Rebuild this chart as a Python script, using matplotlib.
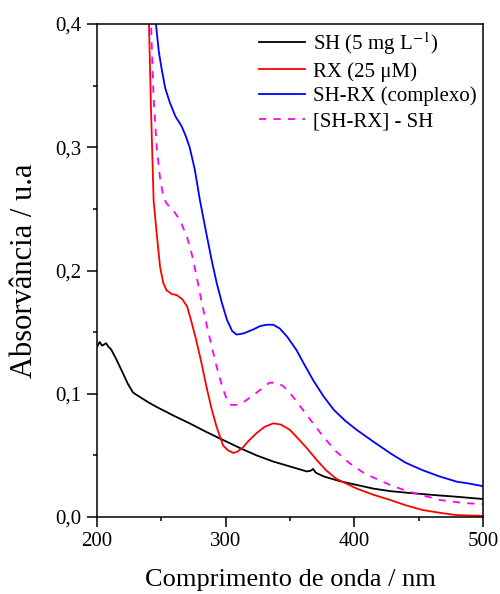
import numpy as np
import matplotlib.pyplot as plt
from matplotlib.ticker import MultipleLocator, FuncFormatter

plt.rcParams['font.family'] = ['Liberation Serif', 'DejaVu Serif']
plt.rcParams['mathtext.fontset'] = 'stix'

# SH (5 mg/L)
sh_x = [200, 202, 204, 207, 209, 211, 215, 220, 224, 228, 233, 240, 246, 260, 272, 285, 298, 311,
        324, 337, 350, 363, 366, 368, 370, 376, 389, 402, 415, 428, 440, 453, 466, 479, 490, 500]
sh_y = [0.138, 0.142, 0.139, 0.141, 0.138, 0.136, 0.128, 0.117, 0.108, 0.101, 0.0976, 0.093, 0.0895,
        0.082, 0.076, 0.069, 0.0625, 0.056, 0.050, 0.045, 0.041, 0.037, 0.0375, 0.039, 0.036, 0.033,
        0.029, 0.026, 0.023, 0.021, 0.0198, 0.0186, 0.0175, 0.0165, 0.0155, 0.0146]

# RX (25 uM)
rx_x = [238, 240.4, 242, 244, 246.4, 249, 251.5, 254, 258, 262, 266, 270, 273, 277, 281, 285, 289,
        293, 296, 298, 302, 306, 309, 313, 318, 324, 330, 337, 343, 350, 356, 363, 367, 371, 378,
        386, 394, 402, 415, 428, 440, 453, 466, 479, 490, 500]
rx_y = [0.48, 0.40, 0.33, 0.257, 0.230, 0.203, 0.190, 0.184, 0.181, 0.180, 0.177, 0.171, 0.160,
        0.144, 0.126, 0.106, 0.088, 0.073, 0.064, 0.058, 0.054, 0.052, 0.053, 0.056, 0.062, 0.068,
        0.073, 0.076, 0.075, 0.0706, 0.064, 0.056, 0.051, 0.046, 0.038, 0.031, 0.027, 0.023, 0.018,
        0.0138, 0.0095, 0.0057, 0.0035, 0.0016, 0.0012, 0.001]

# SH-RX (complexo)
cx_x = [244, 245.8, 248, 250, 253, 256.7, 261, 265.8, 269, 272, 276, 280, 285, 289, 293, 297, 301,
        305, 308.5, 314, 321, 327, 332, 337, 342, 348, 355, 361, 368, 376, 384, 393, 402, 415, 428,
        440, 453, 466, 479.5, 490, 500]
cx_y = [0.44, 0.40, 0.378, 0.365, 0.348, 0.336, 0.325, 0.317, 0.309, 0.300, 0.282, 0.257, 0.230,
        0.209, 0.190, 0.174, 0.160, 0.151, 0.148, 0.149, 0.152, 0.155, 0.156, 0.156, 0.153, 0.146,
        0.1355, 0.124, 0.111, 0.098, 0.087, 0.078, 0.0706, 0.061, 0.0517, 0.044, 0.038, 0.033,
        0.0287, 0.027, 0.025]

# [SH-RX] - SH
df_x = [240, 242, 244, 246.4, 249, 251.5, 254, 259, 264.5, 270, 274, 277.5, 281, 285, 289, 293,
        297, 301, 304, 308.5, 315, 321.5, 328, 334, 340, 345, 352, 360, 368, 376, 386, 396.5, 407,
        417, 430, 443, 455, 466.5, 480, 490, 500]
df_y = [0.44, 0.40, 0.34, 0.300, 0.275, 0.260, 0.2545, 0.249, 0.241, 0.227, 0.212, 0.195, 0.176,
        0.157, 0.139, 0.122, 0.107, 0.095, 0.091, 0.091, 0.094, 0.099, 0.104, 0.109, 0.109, 0.106,
        0.098, 0.087, 0.076, 0.065, 0.053, 0.0435, 0.036, 0.031, 0.025, 0.0205, 0.017, 0.0138,
        0.012, 0.011, 0.0105]

fig = plt.figure(figsize=(5, 5.94), dpi=100)
ax = fig.add_axes([0.194, 0.1296, 0.772, 0.83])

ax.plot(sh_x, sh_y, color='black', lw=1.3, label='SH (5 mg L$^{-1}$)')
ax.plot(rx_x, rx_y, color='red', lw=1.3, label='RX (25 \u03bcM)')
ax.plot(cx_x, cx_y, color='blue', lw=1.3, label='SH-RX (complexo)')
ax.plot(df_x, df_y, color='magenta', lw=1.3, ls=(0, (4, 4)), label='[SH-RX] - SH')

ax.set_xlim(200, 500)
ax.set_ylim(0, 0.4)
ax.xaxis.set_major_locator(MultipleLocator(100))
ax.xaxis.set_minor_locator(MultipleLocator(50))
ax.yaxis.set_major_locator(MultipleLocator(0.1))
ax.yaxis.set_minor_locator(MultipleLocator(0.05))
ax.yaxis.set_major_formatter(FuncFormatter(lambda v, p: ('%.1f' % v).replace('.', ',')))
ax.tick_params(which='both', direction='out', top=False, right=False, labelsize=15, width=1.1)
ax.tick_params(which='major', length=7, pad=4)
ax.tick_params(which='minor', length=3)
for s in ax.spines.values():
    s.set_linewidth(1.1)

ax.set_xlabel('Comprimento de onda / nm', fontsize=19, labelpad=13)
ax.set_ylabel('Absorvância / u.a', fontsize=22, labelpad=12)

leg = ax.legend(loc='upper right', bbox_to_anchor=(1.005, 1.005), frameon=False, fontsize=15,
                handlelength=2.2, handletextpad=0.4, labelspacing=0.25, borderaxespad=0.0)

fig.savefig('out.png')
